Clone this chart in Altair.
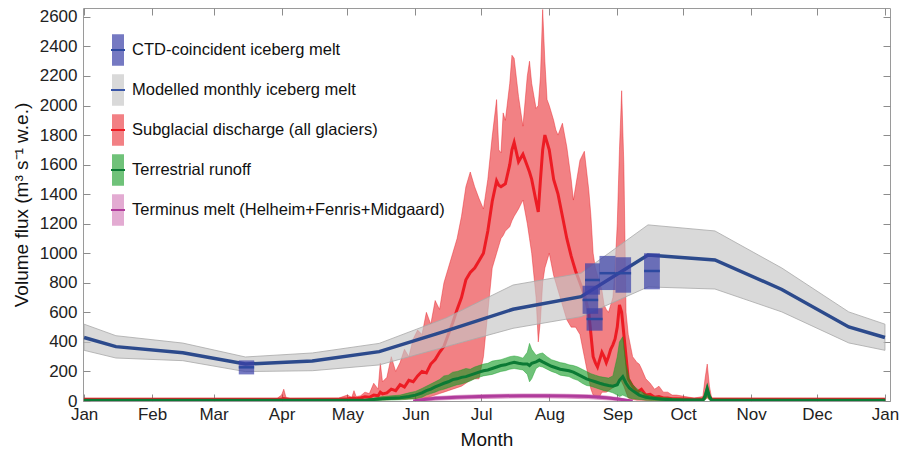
import altair as alt
import pandas as pd

# ---- axis labels / categories ----
MONTHS = ["Jan", "Feb", "Mar", "Apr", "May", "Jun", "Jul", "Aug", "Sep", "Oct", "Nov", "Dec", "Jan"]
MONTH_START = [0, 31, 59, 90, 120, 151, 181, 212, 243, 273, 304, 334, 365]
Y_TICKS = list(range(0, 2601, 200))

SERIES = [
    "CTD-coincident iceberg melt",
    "Modelled monthly iceberg melt",
    "Subglacial discharge (all glaciers)",
    "Terrestrial runoff",
    "Terminus melt (Helheim+Fenris+Midgaard)",
]

# ---- modelled monthly iceberg melt (mid-month values, with envelope) ----
model_day = [0, 14.5, 45, 73.5, 104, 134.5, 165, 195.5, 226.5, 257, 287.5, 318, 348.5, 365]
model_mid = [430, 368, 327, 250, 271, 334, 475, 621, 706, 988, 955, 755, 501, 430]
model_lo = [343, 291, 273, 199, 205, 244, 368, 492, 571, 772, 758, 603, 393, 343]
model_hi = [520, 442, 392, 298, 325, 390, 562, 785, 865, 1192, 1151, 900, 603, 520]

# ---- CTD-coincident iceberg melt (survey windows) ----
ctd_start = [70.5, 228.3, 227.2, 229.0, 234.9, 242.2, 255.2]
ctd_end = [77.5, 235.1, 234.3, 236.3, 242.2, 249.3, 262.4]
ctd_lo = [180, 720, 590, 476, 751, 733, 756]
ctd_hi = [275, 932, 780, 628, 982, 973, 1000]
ctd_mid = [228, 819, 684, 555, 865, 865, 880]

# ---- subglacial discharge, all glaciers ----
red_day = [0, 88, 90, 91, 92, 94, 116, 118, 120, 122, 123, 124, 126, 128, 130, 132, 134, 135, 136, 138,
           140, 142, 144, 146, 148, 150, 152, 154, 156, 158, 160, 162, 164, 166, 168, 170, 172, 174, 176, 178,
           180, 182, 184, 186, 188, 189, 190, 191, 192, 194, 195, 196, 198, 200, 202, 203, 204, 206, 207, 208,
           209, 210, 211, 212, 214, 215, 216, 218, 220, 222, 223, 224, 226, 228, 230, 231, 232, 233, 234, 235,
           236, 237, 238, 239, 240, 241, 242, 243, 244, 245, 246, 247, 248, 250, 252, 253, 254, 256, 258, 260,
           262, 264, 266, 268, 270, 274, 278, 282, 283, 284, 285, 286, 365]
red_mid = [12, 12, 14, 16, 13, 12, 12, 14, 15, 18, 20, 16, 20, 28, 25, 40, 35, 60, 48, 55,
           80, 70, 110, 95, 140, 130, 170, 200, 190, 250, 280, 330, 370, 450, 530, 620, 700, 820, 870, 900,
           950, 1000, 1150, 1350, 1490, 1460, 1450, 1460, 1470, 1600, 1700, 1750, 1620, 1670, 1590, 1550, 1500, 1350, 1280, 1500,
           1700, 1800, 1750, 1700, 1500, 1450, 1400, 1250, 1100, 980, 930, 880, 800, 720, 600, 450, 300, 260, 230, 280,
           330, 300, 260, 300, 350, 380, 420, 500, 650, 600, 450, 300, 150, 100, 60, 70, 80, 40, 45, 25,
           30, 20, 20, 16, 15, 13, 12, 12, 30, 60, 30, 12, 12]
red_lo = [4, 4, 4, 4, 4, 4, 4, 4, 4, 4, 5, 4, 5, 5, 5, 6, 6, 8, 8, 8,
          10, 10, 12, 12, 14, 15, 15, 18, 20, 30, 40, 50, 60, 70, 80, 90, 100, 120, 140, 150,
          150, 300, 600, 900, 1000, 1050, 1100, 1120, 1150, 1180, 1220, 1250, 1300, 1360, 1200, 1100, 1000, 700, 400, 550,
          800, 900, 950, 1000, 850, 800, 750, 650, 550, 500, 500, 500, 450, 300, 150, 80, 40, 30, 20, 30,
          60, 60, 60, 70, 80, 90, 100, 120, 150, 130, 100, 60, 20, 10, 5, 5, 5, 4, 4, 4,
          4, 4, 4, 4, 4, 4, 4, 4, 10, 20, 10, 4, 4]
red_hi = [18, 18, 40, 80, 25, 18, 20, 30, 40, 25, 70, 30, 35, 60, 50, 120, 80, 257, 130, 160,
          300, 200, 260, 350, 300, 420, 480, 450, 600, 520, 680, 620, 800, 900, 1000, 1100, 1250, 1450, 1550, 1450,
          1370, 1300, 1500, 1790, 2040, 1700, 1680, 1950, 1900, 2150, 2340, 2320, 2060, 1860, 2200, 2300, 2150, 1980, 2000, 2200,
          2650, 2300, 2040, 2000, 1900, 1835, 1800, 1880, 1720, 1500, 1360, 1450, 1630, 1690, 1430, 1250, 1000, 900, 850, 800,
          750, 650, 620, 600, 650, 700, 900, 1200, 1700, 2100, 1600, 600, 450, 300, 260, 250, 220, 150, 120, 80,
          100, 60, 60, 40, 40, 30, 20, 30, 150, 250, 100, 20, 18]

# ---- terrestrial runoff ----
green_day = [0, 128, 132, 136, 140, 144, 148, 151, 154, 156, 158, 160, 162, 164, 166, 168, 170, 172, 174, 176,
             178, 180, 182, 184, 186, 188, 190, 192, 194, 196, 198, 200, 202, 203, 204, 206, 207.5, 209, 211, 213,
             215, 217, 219, 221, 223, 225, 227, 229, 231, 233, 235, 237, 239, 241, 243, 244, 245.5, 247, 248.5, 250,
             253, 256, 259, 263, 268, 275, 282, 283, 284, 285, 286, 365]
green_mid = [5, 5, 10, 15, 18, 22, 30, 40, 55, 70, 80, 95, 108, 120, 130, 145, 150, 160, 165, 175,
             185, 195, 205, 210, 220, 230, 240, 245, 255, 262, 255, 250, 250, 240, 255, 265, 277, 265, 250, 235,
             225, 215, 210, 205, 195, 180, 165, 150, 140, 130, 120, 112, 105, 100, 110, 140, 165, 120, 88, 70,
             40, 25, 18, 12, 8, 6, 6, 30, 86, 30, 6, 5]
green_lo = [0, 0, 2, 5, 6, 8, 12, 15, 25, 40, 50, 60, 72, 80, 90, 100, 110, 115, 125, 135,
            150, 160, 170, 175, 180, 190, 200, 205, 215, 220, 215, 210, 180, 130, 150, 220, 235, 230, 215, 200,
            190, 175, 170, 165, 150, 140, 120, 105, 100, 90, 80, 70, 65, 55, 40, 30, 40, 30, 20, 15,
            10, 5, 3, 2, 1, 0, 0, 5, 30, 5, 0, 0]
green_hi = [10, 10, 20, 30, 35, 40, 55, 65, 85, 100, 115, 130, 145, 170, 175, 195, 200, 210, 220, 215,
            230, 240, 250, 255, 270, 275, 280, 290, 300, 305, 300, 290, 330, 390, 350, 310, 320, 325, 300, 280,
            270, 260, 255, 245, 240, 230, 215, 200, 185, 175, 165, 160, 155, 170, 300, 400, 435, 250, 150, 110,
            70, 45, 30, 25, 18, 12, 12, 60, 110, 50, 12, 10]

# ---- terminus melt ----
term_day = [150, 155, 160, 170, 180, 190, 200, 210, 220, 230, 238, 244, 248, 250]
term_mid = [0, 10, 18, 26, 31, 34, 36, 36, 34, 30, 22, 12, 4, 0]
term_lo = [0, 0, 5, 12, 16, 19, 21, 21, 19, 15, 8, 2, 0, 0]
term_hi = [0, 20, 30, 38, 43, 46, 48, 48, 46, 42, 34, 22, 8, 0]

# ---- colours ----
SWATCH_FILL = ["#7579c2", "#d9d9d9", "#f28084", "#6fc279", "#e3abd2"]
SWATCH_LINE = ["#2d49a0", "#3a56a8", "#ed1c24", "#0b7a34", "#b03c9c"]

FONT = "Liberation Sans"

model = pd.DataFrame({"day": model_day, "mid": model_mid, "lo": model_lo, "hi": model_hi})
ctd = pd.DataFrame({"start": ctd_start, "end": ctd_end, "lo": ctd_lo, "hi": ctd_hi, "mid": ctd_mid})
red = pd.DataFrame({"day": red_day, "mid": red_mid, "lo": red_lo, "hi": red_hi})
green = pd.DataFrame({"day": green_day, "mid": green_mid, "lo": green_lo, "hi": green_hi})
term = pd.DataFrame({"day": term_day, "mid": term_mid, "lo": term_lo, "hi": term_hi})
keys = pd.DataFrame({"series": SERIES, "series_line": SERIES})

xs = alt.Scale(domain=[-0.5, 367.3], nice=False, zero=False)
ys = alt.Scale(domain=[0, 2660], nice=False)

label_expr = ("[" + ",".join(f"'{m}'" for m in MONTHS) + "][indexof(["
              + ",".join(str(v) for v in MONTH_START) + "], datum.value)]")

# inward-facing ticks: pull the axis inside the frame by the tick length
TICK = 7
axis_bottom = alt.Axis(values=MONTH_START, labelExpr=label_expr, title="Month", orient="bottom",
                       offset=-TICK, tickSize=TICK, domain=False, grid=False,
                       labelPadding=5, titlePadding=8)
axis_left = alt.Axis(values=Y_TICKS, format="d", title="Volume flux (m³ s⁻¹ w.e.)", orient="left",
                     offset=-TICK, tickSize=TICK, domain=False, grid=False,
                     labelPadding=6, titlePadding=8)
axis_top = alt.Axis(values=MONTH_START, labels=False, title=None, orient="top",
                    offset=-TICK, tickSize=TICK, domain=False, grid=False)
axis_right = alt.Axis(values=Y_TICKS, labels=False, title=None, orient="right",
                      offset=-TICK, tickSize=TICK, domain=False, grid=False)


def band(df, color, fill_opacity, edge_width=0.6, x_axis=None, y_axis=None):
    return alt.Chart(df).mark_area(
        color=color, fillOpacity=fill_opacity, stroke=color, strokeWidth=edge_width,
        strokeOpacity=0.7, clip=True
    ).encode(
        x=alt.X("day:Q", scale=xs, axis=x_axis),
        y=alt.Y("hi:Q", scale=ys, axis=y_axis),
        y2="lo:Q",
    )


def curve(df, color, width, x_axis=None, y_axis=None):
    return alt.Chart(df).mark_line(color=color, strokeWidth=width, clip=True).encode(
        x=alt.X("day:Q", scale=xs, axis=x_axis),
        y=alt.Y("mid:Q", scale=ys, axis=y_axis),
    )


red_band = band(red, "#e8191f", 0.55, x_axis=axis_bottom, y_axis=axis_left)
red_line = curve(red, "#ed1c24", 3)
green_band = band(green, "#0f9a20", 0.6)
green_line = curve(green, "#0b7a34", 3)
term_band = band(term, "#c0459a", 0.45)
term_line = curve(term, "#b03c9c", 3)
model_band = alt.Chart(model).mark_area(
    color="#c4c4c4", fillOpacity=0.65, stroke="#a8a8a8", strokeWidth=0.8, clip=True
).encode(
    x=alt.X("day:Q", scale=xs, axis=None),
    y=alt.Y("hi:Q", scale=ys, axis=None),
    y2="lo:Q",
)
model_line = curve(model, "#2c4a8c", 3.5, x_axis=axis_top, y_axis=axis_right)

ctd_box = alt.Chart(ctd).mark_rect(color="#3a40a8", opacity=0.7, clip=True).encode(
    x=alt.X("start:Q", scale=xs, axis=None),
    x2="end:Q",
    y=alt.Y("hi:Q", scale=ys, axis=None),
    y2="lo:Q",
)
ctd_tick = alt.Chart(ctd).mark_rule(color="#2d49a0", strokeWidth=2.5, clip=True).encode(
    x=alt.X("start:Q", scale=xs, axis=None),
    x2="end:Q",
    y=alt.Y("mid:Q", scale=ys, axis=None),
)

# legend: a swatch legend with the line legend drawn on top of it
# (custom symbol paths live in a [-1, 1] box scaled by sqrt(symbolSize) / 2)
LEG_X, LEG_Y = 24, 31
legend_common = dict(orient="none", legendX=LEG_X, legendY=LEG_Y, title=None, symbolSize=400,
                     symbolStrokeWidth=2, labelFont=FONT, labelFontSize=16.5, labelColor="#111111",
                     labelLimit=600, labelOffset=3, rowPadding=0, symbolOpacity=1)
swatch_legend = alt.Legend(symbolType="M-0.6,-1.575H0.6V1.575H-0.6Z", symbolStrokeColor="transparent",
                           **legend_common)
line_legend = alt.Legend(symbolType="M0,-1.575M-0.7,0H0.7M0,1.575",
                         symbolFillColor="transparent", labelOpacity=0, **legend_common)

key_fill = alt.Chart(keys).mark_square(size=0, opacity=1).encode(
    fill=alt.Fill("series:N", sort=None, scale=alt.Scale(range=SWATCH_FILL), legend=swatch_legend)
)
key_line = alt.Chart(keys).mark_point(size=0, opacity=1, filled=False).encode(
    stroke=alt.Stroke("series_line:N", sort=None, scale=alt.Scale(range=SWATCH_LINE), legend=line_legend)
)

chart = alt.layer(
    red_band, red_line, green_band, green_line, term_band, term_line,
    model_band, model_line, ctd_box, ctd_tick, key_fill, key_line,
).resolve_axis(
    x="independent", y="independent"
).properties(
    width=807, height=393,
    padding={"left": 83, "top": 8, "right": 14, "bottom": 53},
    autosize="none",
    background="white",
).configure_view(
    stroke="#9a9a9a", strokeWidth=1
).configure_axis(
    labelFont=FONT, labelFontSize=17, labelColor="#222222",
    titleFont=FONT, titleFontSize=19, titleFontWeight="normal", titleColor="#111111",
    tickColor="#8c8c8c", tickWidth=1,
)

chart.save("out.html", embed_options={"renderer": "svg", "actions": False})
